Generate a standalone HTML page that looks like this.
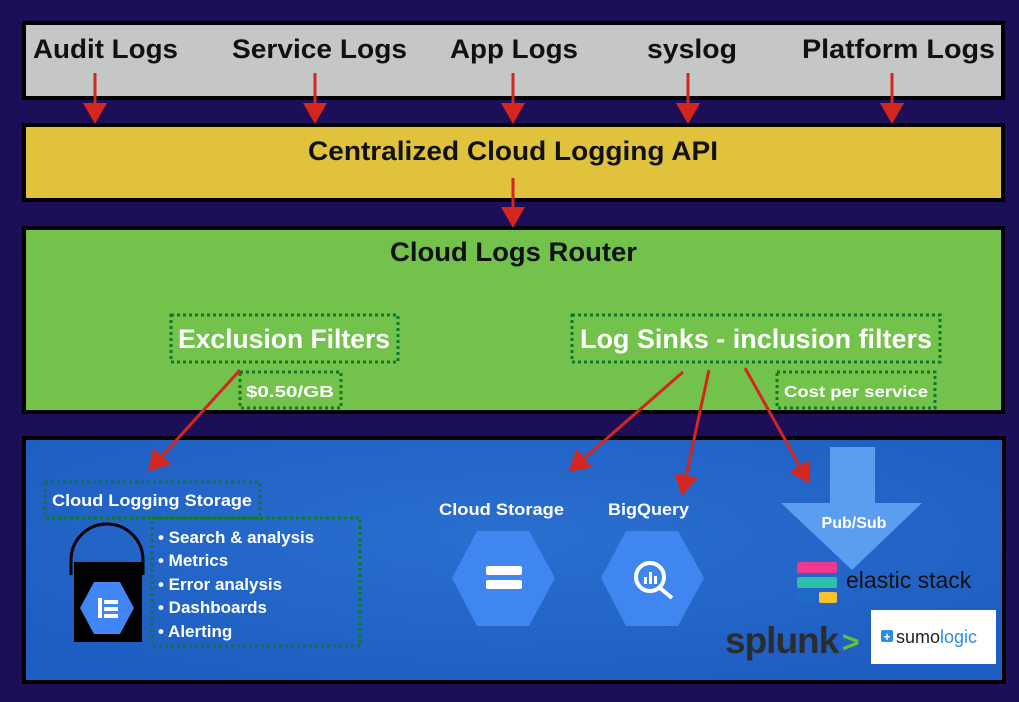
<!DOCTYPE html>
<html><head><meta charset="utf-8"><style>
html,body{margin:0;padding:0;background:#1d0f57;}
svg{display:block;font-family:"Liberation Sans",sans-serif;}
</style></head><body>
<svg width="1019" height="702" viewBox="0 0 1019 702" xmlns="http://www.w3.org/2000/svg">
<defs>
<marker id="ah" markerWidth="8" markerHeight="8" refX="5" refY="4" orient="auto" markerUnits="strokeWidth">
<path d="M0,0 L7,4 L0,8 Z" fill="#d3261e"/></marker>
<radialGradient id="bg" cx="50%" cy="40%" r="70%"><stop offset="0" stop-color="#2a6fd0"/><stop offset="1" stop-color="#1d5cc0"/></radialGradient>
</defs>
<rect width="1019" height="702" fill="#1d0f57"/>
<rect x="24" y="23" width="979" height="75" fill="#c5c7c6" stroke="#000" stroke-width="4"/>
<rect x="24" y="125" width="979" height="75" fill="#e0c23c" stroke="#000" stroke-width="4"/>
<rect x="24" y="228" width="979" height="184" fill="#72c24b" stroke="#000" stroke-width="4"/>
<rect x="24" y="438" width="980" height="244" fill="url(#bg)" stroke="#000" stroke-width="4"/>

<g font-weight="bold" font-size="27" fill="#111">
<text x="33" y="58" textLength="145" lengthAdjust="spacingAndGlyphs">Audit Logs</text>
<text x="232" y="58" textLength="175" lengthAdjust="spacingAndGlyphs">Service Logs</text>
<text x="450" y="58" textLength="128" lengthAdjust="spacingAndGlyphs">App Logs</text>
<text x="647" y="58" textLength="90" lengthAdjust="spacingAndGlyphs">syslog</text>
<text x="802" y="58" textLength="193" lengthAdjust="spacingAndGlyphs">Platform  Logs</text>
<text x="308" y="160" textLength="410" lengthAdjust="spacingAndGlyphs">Centralized Cloud Logging API</text>
<text x="390" y="261" textLength="247" lengthAdjust="spacingAndGlyphs">Cloud Logs Router</text>
</g>

<g fill="none" stroke="#0d7a2a" stroke-width="3" stroke-dasharray="3,3">
<rect x="171" y="315" width="227" height="47"/>
<rect x="240" y="372" width="101" height="36"/>
<rect x="572" y="315" width="368" height="47"/>
<rect x="777" y="372" width="158" height="36"/>
<rect x="45" y="482" width="215" height="36"/>
<rect x="152" y="518" width="208" height="128"/>
</g>
<g fill="#fff" font-size="27" font-weight="bold">
<text x="178" y="348" textLength="212" lengthAdjust="spacingAndGlyphs">Exclusion Filters</text>
<text x="580" y="348" textLength="352" lengthAdjust="spacingAndGlyphs">Log Sinks - inclusion filters</text>
</g>
<g fill="#fff" font-size="16" font-weight="bold">
<text x="246" y="397" textLength="88" lengthAdjust="spacingAndGlyphs">$0.50/GB</text>
<text x="784" y="397" textLength="144" lengthAdjust="spacingAndGlyphs">Cost per service</text>
<text x="52" y="506" font-size="17" textLength="200" lengthAdjust="spacingAndGlyphs">Cloud Logging Storage</text>
<text x="439" y="515" font-size="17" textLength="125" lengthAdjust="spacingAndGlyphs">Cloud Storage</text>
<text x="608" y="515" font-size="17" textLength="81" lengthAdjust="spacingAndGlyphs">BigQuery</text>
</g>
<g fill="#fff" font-size="17" font-weight="bold">
<text x="158" y="543">• Search &amp; analysis</text>
<text x="158" y="566">• Metrics</text>
<text x="158" y="590">• Error analysis</text>
<text x="158" y="613">• Dashboards</text>
<text x="158" y="637">• Alerting</text>
</g>

<path d="M71,575 L71,560 A34,34 0 0 1 143,560 L143,575" fill="none" stroke="#000" stroke-width="3"/>
<rect x="74" y="562" width="68" height="80" fill="#000"/>
<polygon points="80,608 94,582 120,582 134,608 120,634 94,634" fill="#4285f4"/>
<g fill="#fff"><rect x="98" y="598" width="4" height="20"/><rect x="104" y="600" width="14" height="4"/><rect x="104" y="607" width="14" height="4"/><rect x="104" y="614" width="14" height="4"/></g>

<polygon points="452,578 477,531 529,531 555,578 529,626 477,626" fill="#3f86f0"/>
<rect x="486" y="566" width="36" height="9" rx="2" fill="#fff"/>
<rect x="486" y="580" width="36" height="9" rx="2" fill="#fff"/>
<polygon points="601,578 626,531 678,531 704,578 678,626 626,626" fill="#3f86f0"/>
<circle cx="650" cy="577" r="14" fill="none" stroke="#fff" stroke-width="4"/>
<line x1="660" y1="588" x2="672" y2="598" stroke="#fff" stroke-width="4"/>
<g fill="#fff"><rect x="644" y="577" width="3" height="7"/><rect x="649" y="572" width="3" height="12"/><rect x="654" y="576" width="3" height="8"/></g>

<polygon points="830,447 875,447 875,503 922,503 852,570 781,503 830,503" fill="#5b9ef0"/>
<text x="854" y="528" text-anchor="middle" fill="#fff" font-size="16" font-weight="bold">Pub/Sub</text>
<rect x="797" y="562" width="40" height="11" rx="2" fill="#f0388f"/>
<rect x="797" y="577" width="40" height="11" rx="2" fill="#2cc0a8"/>
<rect x="797" y="592" width="19" height="11" rx="2" fill="#1f6cc7"/>
<rect x="819" y="592" width="18" height="11" rx="2" fill="#f7c22c"/>
<text x="846" y="588" font-size="23" fill="#111">elastic stack</text>
<text x="725" y="653" font-size="37" font-weight="bold" fill="#2c2c2c" letter-spacing="-1">splunk</text>
<text x="842" y="652" font-size="30" font-weight="bold" fill="#65c42c">&gt;</text>
<rect x="871" y="610" width="125" height="54" fill="#fff"/>
<rect x="881" y="630" width="12" height="12" rx="2" fill="#2b8ee0"/>
<text x="887" y="641" font-size="12" fill="#fff" text-anchor="middle" font-weight="bold">+</text>
<text x="896" y="643" font-size="18" fill="#222">sumo<tspan fill="#2b8ee0">logic</tspan></text>

<g stroke="#d3261e" stroke-width="3" fill="none" marker-end="url(#ah)">
<line x1="95" y1="73" x2="95" y2="118"/>
<line x1="315" y1="73" x2="315" y2="118"/>
<line x1="513" y1="73" x2="513" y2="118"/>
<line x1="688" y1="73" x2="688" y2="118"/>
<line x1="892" y1="73" x2="892" y2="118"/>
<line x1="513" y1="178" x2="513" y2="222"/>
<line x1="240" y1="370" x2="152" y2="467"/>
<line x1="683" y1="372" x2="573" y2="468"/>
<line x1="709" y1="370" x2="683" y2="490"/>
<line x1="745" y1="368" x2="807" y2="479"/>
</g>
</svg>
</body></html>
